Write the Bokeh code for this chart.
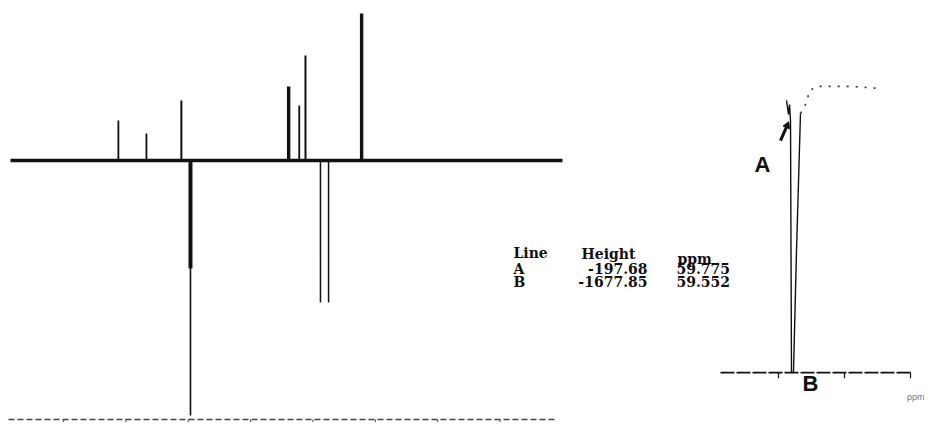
from bokeh.plotting import figure
from bokeh.models import Range1d, Label
from bokeh.embed import file_html
from bokeh.resources import INLINE

# ---------------- data ----------------
# main DEPT-type spectrum (ppm, intensity)
pos_ppm = [71.2, 66.7, 61.1, 43.9, 42.2, 41.2, 32.2]
pos_height = [263, 178, 395, 487, 362, 691, 967]
pos_width = [1.8, 1.8, 2.0, 3.4, 1.8, 2.0, 3.4]

neg_ppm = [59.64, 38.8, 37.5]
neg_height = [-1678, -934, -934]
neg_width = [1.6, 1.5, 1.5]
neg_core_ppm = [59.64]
neg_core_height = [-711]

baseline_ppm = [88.5, 0.0]
axis_ppm = [88.82, 1.2]
axis_level = -1704
axis_ticks_ppm = [80, 70, 60, 50, 40, 30, 20, 10]

# expansion (ppm, intensity)
exp_ppm = [59.5697, 59.5621, 59.5583, 59.5545, 59.5508, 59.5432, 59.5318, 59.5167]
exp_int = [-30, -115, -55, -151, -1678, -1678, -939, -109]
exp_tail_ppm = [59.5167, 59.4939, 59.4826, 59.4523, 59.3273, 59.2061]
exp_tail_int = [-109, -42, 30, 55, 55, 42]
exp_axis_ppm = [59.8197, 59.0924]
exp_axis_level = -1678
exp_ticks_ppm = [59.60, 59.35, 59.10]
arrow_ppm = [59.5924, 59.5674]
arrow_int = [-273, -182]

table_lines = ["A", "B"]
table_heights = [-197.68, -1677.85]
table_ppm = [59.775, 59.552]

# ---------------- figure ----------------
p = figure(width=927, height=422, x_range=Range1d(90.10, -58.53),
           y_range=Range1d(-1724, 1053), output_backend="svg",
           toolbar_location=None, min_border=0,
           x_axis_location=None, y_axis_location=None)
p.grid.visible = False
p.outline_line_color = None
p.background_fill_color = "white"
p.extra_x_ranges = {"exp": Range1d(62.547, 59.0356)}
p.extra_y_ranges = {"expy": Range1d(-1980.6, 575.4)}

ink = "#111111"

# main spectrum
p.line(baseline_ppm, [0, 0], line_color=ink, line_width=3.5)
p.segment(x0=pos_ppm, y0=[0] * len(pos_ppm), x1=pos_ppm, y1=pos_height,
          line_color=ink, line_width=pos_width)
p.segment(x0=neg_ppm, y0=[0] * len(neg_ppm), x1=neg_ppm, y1=neg_height,
          line_color=ink, line_width=neg_width)
p.segment(x0=neg_core_ppm, y0=[0], x1=neg_core_ppm, y1=neg_core_height,
          line_color=ink, line_width=4)

# bottom scale of main spectrum
p.line(axis_ppm, [axis_level, axis_level], line_color="#444444",
       line_width=1.5, line_dash="6 3")
p.segment(x0=axis_ticks_ppm, y0=[axis_level] * len(axis_ticks_ppm),
          x1=axis_ticks_ppm, y1=[axis_level - 40] * len(axis_ticks_ppm),
          line_color="#555555", line_width=1.2)

# expansion
p.line(exp_ppm, exp_int, line_color=ink, line_width=1.4,
       x_range_name="exp", y_range_name="expy")
p.line(exp_tail_ppm, exp_tail_int, line_color="#333333", line_width=1.6,
       line_dash="2 7", x_range_name="exp", y_range_name="expy")
p.line(exp_axis_ppm, [exp_axis_level] * 2, line_color=ink, line_width=1.8,
       line_dash="14 2", x_range_name="exp", y_range_name="expy")
p.segment(x0=exp_ticks_ppm, y0=[exp_axis_level] * 3, x1=exp_ticks_ppm,
          y1=[exp_axis_level - 35] * 3, line_color=ink, line_width=1.2,
          x_range_name="exp", y_range_name="expy")
p.line(arrow_ppm, arrow_int, line_color=ink, line_width=3,
       x_range_name="exp", y_range_name="expy")
p.scatter([arrow_ppm[1]], [arrow_int[1]], marker="triangle", size=7,
          angle=-0.41, color=ink, x_range_name="exp", y_range_name="expy")


def lab(text, px, py, size="14px", font="DejaVu Serif", align="left",
        style="bold", color=ink):
    p.add_layout(Label(x=px, y=422 - py, x_units="screen", y_units="screen",
                       text=text, text_font=font, text_font_size=size,
                       text_align=align, text_baseline="alphabetic",
                       text_font_style=style, text_color=color))


# table
lab("Line", 513, 252)
lab("Height", 581, 253)
lab("ppm", 677, 258)
rows_y = [268, 281]
for name, h, pp, ry in zip(table_lines, table_heights, table_ppm, rows_y):
    lab(name, 513, ry)
    lab(f"{h:.2f}", 647, ry, align="right")
    lab(f"{pp:.3f}", 676, ry)

# peak labels
lab("A", 754, 164, size="22px", font="Liberation Sans")
lab("B", 802, 383, size="22px", font="Liberation Sans")
lab("ppm", 924, 396, size="9px", font="Liberation Sans", align="right",
    style="normal", color="#777777")

open("out.html", "w").write(file_html(p, INLINE))
